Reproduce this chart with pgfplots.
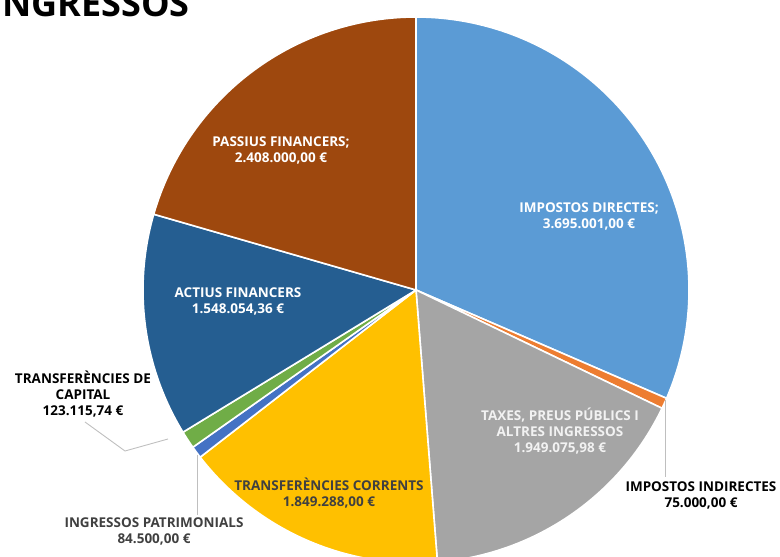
\documentclass[border=0pt]{standalone}
\usepackage{pgfplots}
\pgfplotsset{compat=1.18}
\usepackage{fontspec}
\setmainfont{Open Sans}
\definecolor{cA}{HTML}{5B9BD5}
\definecolor{cB}{HTML}{ED7D31}
\definecolor{cC}{HTML}{A5A5A5}
\definecolor{cD}{HTML}{FFC000}
\definecolor{cE}{HTML}{4472C4}
\definecolor{cF}{HTML}{70AD47}
\definecolor{cG}{HTML}{255E91}
\definecolor{cH}{HTML}{9E480E}
\definecolor{txtdark}{HTML}{404040}
\definecolor{leader}{HTML}{BFBFBF}
\tikzset{lbl/.style={font=\fontsize{13.5}{16}\selectfont\bfseries, align=center, inner sep=0pt, anchor=center}}
% values (EUR)
\def\vA{3695001.00}   % Impostos directes
\def\vB{75000.00}     % Impostos indirectes
\def\vC{1949075.98}   % Taxes, preus publics i altres ingressos
\def\vD{1849288.00}   % Transferencies corrents
\def\vE{84500.00}     % Ingressos patrimonials
\def\vF{123115.74}    % Transferencies de capital
\def\vG{1548054.36}   % Actius financers
\def\vH{2408000.00}   % Passius financers
\begin{document}
\begin{tikzpicture}
\useasboundingbox (0,0) rectangle (780pt,557pt);
\clip (0,0) rectangle (780pt,557pt);
\edef\tot{\fpeval{\vA+\vB+\vC+\vD+\vE+\vF+\vG+\vH}}
\edef\aO{90}
\edef\aA{\fpeval{\aO-360*\vA/\tot}}
\edef\aB{\fpeval{\aA-360*\vB/\tot}}
\edef\aC{\fpeval{\aB-360*\vC/\tot}}
\edef\aD{\fpeval{\aC-360*\vD/\tot}}
\edef\aE{\fpeval{\aD-360*\vE/\tot}}
\edef\aF{\fpeval{\aE-360*\vF/\tot}}
\edef\aG{\fpeval{\aF-360*\vG/\tot}}
\edef\aH{\fpeval{\aG-360*\vH/\tot}}
\begin{axis}[
  at={(0,0)}, anchor=south west,
  scale only axis, width=780pt, height=557pt,
  xmin=0, xmax=780, ymin=0, ymax=557,
  hide axis, clip=false,
  every axis plot/.append style={draw=white, line width=1.6pt, line join=round, samples=120, variable=\t},
]
\addplot[fill=cA, domain=\aA:\aO] ({416+273*cos(\t)},{267+273*sin(\t)}) -- (axis cs:416,267) -- cycle;
\addplot[fill=cB, domain=\aB:\aA] ({416+273*cos(\t)},{267+273*sin(\t)}) -- (axis cs:416,267) -- cycle;
\addplot[fill=cC, domain=\aC:\aB] ({416+273*cos(\t)},{267+273*sin(\t)}) -- (axis cs:416,267) -- cycle;
\addplot[fill=cD, domain=\aD:\aC] ({416+273*cos(\t)},{267+273*sin(\t)}) -- (axis cs:416,267) -- cycle;
\addplot[fill=cE, domain=\aE:\aD] ({416+273*cos(\t)},{267+273*sin(\t)}) -- (axis cs:416,267) -- cycle;
\addplot[fill=cF, domain=\aF:\aE] ({416+273*cos(\t)},{267+273*sin(\t)}) -- (axis cs:416,267) -- cycle;
\addplot[fill=cG, domain=\aG:\aF] ({416+273*cos(\t)},{267+273*sin(\t)}) -- (axis cs:416,267) -- cycle;
\addplot[fill=cH, domain=\aH:\aG] ({416+273*cos(\t)},{267+273*sin(\t)}) -- (axis cs:416,267) -- cycle;
% leader lines
\addplot[draw=leader, line width=0.9pt] coordinates {(85,135) (125,106) (168,118)};
\addplot[draw=leader, line width=0.9pt] coordinates {(197,102) (197,42)};
\addplot[draw=leader, line width=0.9pt] coordinates {(665,157) (665,80)};
% labels
\node[lbl, text=white] at (axis cs:589,340.5) {IMPOSTOS DIRECTES;\\3.695.001,00 €};
\node[lbl, text=white] at (axis cs:281,407) {PASSIUS FINANCERS;\\2.408.000,00 €};
\node[lbl, text=white] at (axis cs:238,256) {ACTIUS FINANCERS\\1.548.054,36 €};
\node[lbl, text=white!95!black] at (axis cs:560,126) {TAXES, PREUS PÚBLICS I\\ALTRES INGRESSOS\\1.949.075,98 €};
\node[lbl, text=txtdark] at (axis cs:329,63.5) {TRANSFERÈNCIES CORRENTS\\1.849.288,00 €};
\node[lbl, text=txtdark] at (axis cs:154,26) {INGRESSOS PATRIMONIALS\\84.500,00 €};
\node[lbl, text=black] at (axis cs:701,62) {IMPOSTOS INDIRECTES\\75.000,00 €};
\node[lbl, text=black] at (axis cs:83,163) {TRANSFERÈNCIES DE\\CAPITAL\\123.115,74 €};
% title
\node[anchor=base east, inner sep=0pt, font=\fontsize{36}{40}\selectfont\bfseries] at (axis cs:190,540) {INGRESSOS};
\end{axis}
\end{tikzpicture}
\end{document}
